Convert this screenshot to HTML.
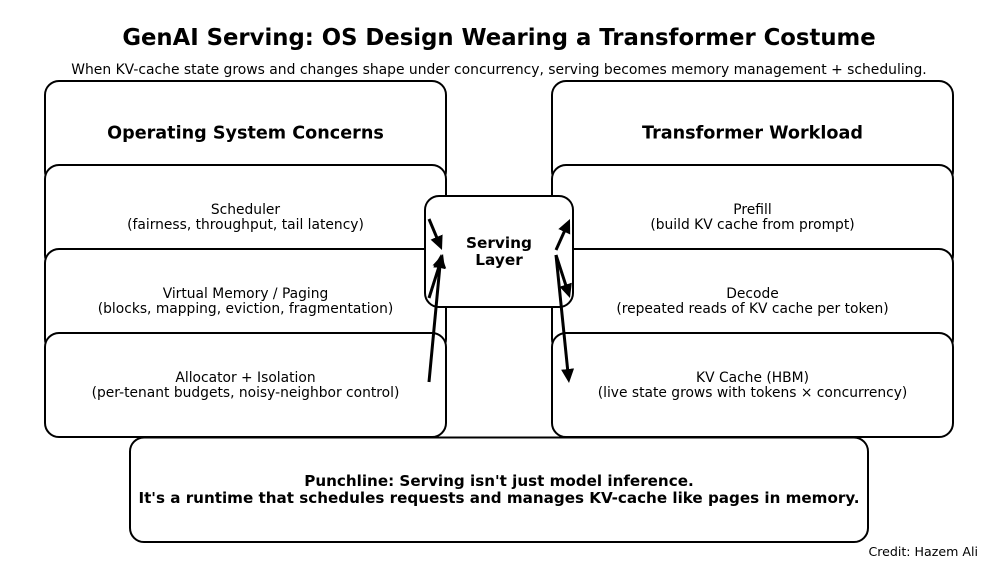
<!DOCTYPE html>
<html>
<head>
<meta charset="utf-8">
<style>
html,body{margin:0;padding:0;background:#fff}
svg{display:block}
text{font-family:"DejaVu Sans",sans-serif;fill:#000;text-anchor:middle}
.b{font-weight:bold}
rect{fill:#fff;stroke:#000;stroke-width:2}
.a{stroke:#000;stroke-width:3;fill:none}
</style>
</head>
<body>
<svg width="999" height="574" viewBox="0 0 999 574" xmlns="http://www.w3.org/2000/svg">
<defs>
<marker id="h" viewBox="0 0 14 14" refX="6" refY="7" markerWidth="14" markerHeight="14" markerUnits="userSpaceOnUse" orient="auto">
<path d="M0 0.500 L14 7 L0 13.500 Z" fill="#000"/>
</marker>
</defs>
<text x="499" y="45" class="b" font-size="22.75">GenAI Serving: OS Design Wearing a Transformer Costume</text>
<text x="499" y="74" font-size="13.9">When KV-cache state grows and changes shape under concurrency, serving becomes memory management + scheduling.</text>

<rect x="45" y="81" width="401" height="104" rx="14"/>
<rect x="45" y="165" width="401" height="104" rx="14"/>
<rect x="45" y="249" width="401" height="104" rx="14"/>
<rect x="45" y="333" width="401" height="104" rx="14"/>
<rect x="552" y="81" width="401" height="104" rx="14"/>
<rect x="552" y="165" width="401" height="104" rx="14"/>
<rect x="552" y="249" width="401" height="104" rx="14"/>
<rect x="552" y="333" width="401" height="104" rx="14"/>
<rect x="130" y="437.500" width="738" height="104.500" rx="14"/>
<rect x="425" y="196" width="148" height="111" rx="14"/>

<text x="245.500" y="138.500" class="b" font-size="17.6">Operating System Concerns</text>
<text x="752.500" y="138.500" class="b" font-size="17.6">Transformer Workload</text>

<text x="245.500" y="214" font-size="13.83">Scheduler</text>
<text x="245.500" y="229" font-size="13.83">(fairness, throughput, tail latency)</text>
<text x="245.500" y="298" font-size="13.83">Virtual Memory / Paging</text>
<text x="245.500" y="313" font-size="13.83">(blocks, mapping, eviction, fragmentation)</text>
<text x="245.500" y="382" font-size="13.83">Allocator + Isolation</text>
<text x="245.500" y="397" font-size="13.83">(per-tenant budgets, noisy-neighbor control)</text>

<text x="752.500" y="214" font-size="13.83">Prefill</text>
<text x="752.500" y="229" font-size="13.83">(build KV cache from prompt)</text>
<text x="752.500" y="298" font-size="13.83">Decode</text>
<text x="752.500" y="313" font-size="13.83">(repeated reads of KV cache per token)</text>
<text x="752.500" y="382" font-size="13.83">KV Cache (HBM)</text>
<text x="752.500" y="397" font-size="13.83">(live state grows with tokens × concurrency)</text>

<text x="499" y="248" class="b" font-size="15.3">Serving</text>
<text x="499" y="265" class="b" font-size="15.3">Layer</text>

<text x="499" y="486" class="b" font-size="15.15">Punchline: Serving isn't just model inference.</text>
<text x="499" y="503" class="b" font-size="15.15">It's a runtime that schedules requests and manages KV-cache like pages in memory.</text>

<text x="978" y="556" font-size="12.6" style="text-anchor:end">Credit: Hazem Ali</text>

<line class="a" x1="429" y1="219" x2="438.900" y2="242.600" marker-end="url(#h)"/>
<line class="a" x1="429" y1="298" x2="440.600" y2="261.600" marker-end="url(#h)"/>
<line class="a" x1="429" y1="382" x2="440.300" y2="262" marker-end="url(#h)"/>
<line class="a" x1="556" y1="250" x2="566.700" y2="226.300" marker-end="url(#h)"/>
<line class="a" x1="556" y1="255" x2="567.500" y2="290.400" marker-end="url(#h)"/>
<line class="a" x1="556" y1="255" x2="568.200" y2="375" marker-end="url(#h)"/>
</svg>
</body>
</html>
